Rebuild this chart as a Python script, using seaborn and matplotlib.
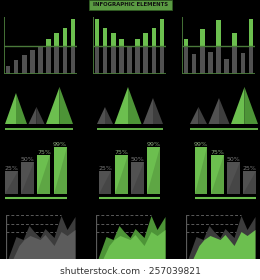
import matplotlib
matplotlib.use("Agg")
import matplotlib.pyplot as plt
from matplotlib.patches import Rectangle
import seaborn as sns

sns.set_theme(style="white")
plt.rcParams['font.family'] = ['DejaVu Sans']

# ---------------- data ----------------
title = "INFOGRAPHIC ELEMENTS"
caption = "shutterstock.com \u00b7 257039821"

bar_threshold = 50
bars_a = [14, 25, 34, 43, 50, 62, 73, 82, 98]
bars_b = [98, 82, 73, 62, 50, 62, 73, 82, 98]
bars_c = [62, 36, 80, 39, 96, 27, 73, 37, 98]

peaks_a_h = [31, 17, 37]
peaks_a_w = [22, 16, 27]
peaks_a_green = [True, False, True]
peaks_b_h = [17, 37, 26]
peaks_b_w = [16, 27, 20]
peaks_b_green = [False, True, False]
peaks_c_h = [17, 26, 37]
peaks_c_w = [17, 21, 27]
peaks_c_green = [False, False, True]

pct_heights = {"25%": 23, "50%": 32, "75%": 39, "99%": 47}
pct_a = ["25%", "50%", "75%", "99%"]
pct_b = ["25%", "75%", "50%", "99%"]
pct_c = ["99%", "75%", "50%", "25%"]

area_back_x = [2, 10, 17, 23, 28, 34, 39, 48, 55, 61, 69]
area_back_y = [0, 22, 19, 33, 27, 21, 30, 21, 43, 29, 42]
area_front_x = [7, 13, 18, 24, 34, 39, 48, 55, 61, 69]
area_front_y = [0, 13, 19, 23, 19, 24, 13, 27, 23, 29]
area_grid = [27, 35, 44]

# ---------------- style ----------------
GREEN = "#6cbf4f"
GREEN_D = "#4d9437"
GRAY = "#515151"
GRAY_D = "#3e3e3e"
AXG = "#4a7a3a"

W, H = 260, 280
fig = plt.figure(figsize=(W / 100, H / 100), dpi=100, facecolor="white")
bg = Rectangle((0, 1 - 259 / H), 1, 259 / H, transform=fig.transFigure,
               facecolor="black", edgecolor="none")
bg.set_zorder(-10)
fig.patches.append(bg)


def rect(x0, y0, x1, y1):
    return [x0 / W, 1 - y1 / H, (x1 - x0) / W, (y1 - y0) / H]


def clean(ax):
    ax.set_facecolor("none")
    ax.patch.set_alpha(0)
    for s in ax.spines.values():
        s.set_visible(False)
    ax.set_xticks([])
    ax.set_yticks([])
    ax.set_xlabel("")
    ax.set_ylabel("")


# title box
tb = Rectangle((89 / W, 1 - 9.5 / H), 83 / W, 9.5 / H, transform=fig.transFigure,
               facecolor="#5a9a42", edgecolor="#2f5a22", lw=0.6)
tb.set_zorder(-5)
fig.patches.append(tb)
fig.text(130.5 / W, 1 - 5 / H, title, ha="center", va="center", fontsize=3.9,
         fontweight="bold", color="#111111")

# ---------------- row 1: threshold bars ----------------
for vals, x0 in [(bars_a, 4), (bars_b, 93), (bars_c, 182)]:
    ax = fig.add_axes(rect(x0, 17, x0 + 73, 74))
    idx = list(range(len(vals)))
    sns.barplot(x=idx, y=vals, ax=ax, color=GREEN, saturation=1, width=0.56, linewidth=0)
    sns.barplot(x=idx, y=[min(v, bar_threshold) for v in vals], ax=ax, color=GRAY,
                saturation=1, width=0.56, linewidth=0)
    ax.set_xlim(-0.5, len(vals) - 0.5)
    ax.set_ylim(0, 102)
    clean(ax)
    ax.axhline(bar_threshold, color=AXG, lw=1.0)
    ax.axhline(0, color=AXG, lw=1.3)
    ax.axvline(-0.5, color=AXG, lw=1.3)

# ---------------- row 2: peaks ----------------
for hs, ws, gs, x0 in [(peaks_a_h, peaks_a_w, peaks_a_green, 5),
                       (peaks_b_h, peaks_b_w, peaks_b_green, 97),
                       (peaks_c_h, peaks_c_w, peaks_c_green, 190)]:
    total = sum(ws) + 1.5 * (len(ws) - 1)
    ax = fig.add_axes(rect(x0, 84, x0 + total, 131))
    clean(ax)
    ax.set_xlim(0, total)
    ax.set_ylim(-7, 40)
    pos = 0
    for h, w, g in zip(hs, ws, gs):
        lc, dc = (GREEN, GREEN_D) if g else (GRAY, GRAY_D)
        xc = pos + w / 2
        ax.fill([pos, xc, xc], [0, h, 0], color=lc, lw=0)
        ax.fill([xc, xc, pos + w], [0, h, 0], color=dc, lw=0)
        pos += w + 1.5
    ax.plot([0, total], [-5, -5], color=GREEN, lw=1.3, solid_capstyle="butt")

# ---------------- row 3: percentage bars ----------------
for labels, x0 in [(pct_a, 3.4), (pct_b, 96.9), (pct_c, 192.9)]:
    ax = fig.add_axes(rect(x0, 140, x0 + 64.8, 200))
    hs = [pct_heights[l] for l in labels]
    greens = [int(l[:-1]) >= 75 for l in labels]
    cols = [GREEN if g else GRAY for g in greens]
    idx = list(range(len(labels)))
    sns.barplot(x=idx, y=hs, hue=idx, palette=cols, ax=ax, saturation=1, width=0.8,
                linewidth=0, legend=False, dodge=False)
    ax.set_xlim(-0.5, len(labels) - 0.5)
    ax.set_ylim(-6, 54)
    clean(ax)
    for p, g in zip(list(ax.patches), greens):
        bx, by, bw, bh = p.get_x(), p.get_y(), p.get_width(), p.get_height()
        ax.fill([bx, bx + bw, bx + bw], [by, by, by + bh], color="black", alpha=0.13, lw=0)
    for i, (l, h, g) in enumerate(zip(labels, hs, greens)):
        ax.text(i, h + 0.4, l, ha="center", va="bottom", fontsize=4.5,
                color="#8aa87c" if g else "#7a7a7a")
    ax.plot([-0.4, len(labels) - 0.6], [-4, -4], color=GREEN, lw=1.5, solid_capstyle="butt")

# ---------------- row 4: area charts ----------------
for back_c, front_c, x0 in [("#3c3c3c", "#5c5c5c", 6), (GREEN_D, GREEN, 96), ("#3c3c3c", GREEN, 186)]:
    ax = fig.add_axes(rect(x0, 210, x0 + 72, 258.5))
    clean(ax)
    ax.set_xlim(0, 72)
    ax.set_ylim(0, 48.5)
    for g in area_grid:
        ax.plot([0, 55], [g, g], color="#5a5a5a", lw=0.7, ls=(0, (3, 2)), zorder=1)
    ax.fill_between(area_back_x, area_back_y, 0, color=back_c, lw=0, zorder=2)
    ax.fill_between(area_front_x, area_front_y, 0, color=front_c, lw=0, zorder=3)
    ax.plot([0, 0], [0, 44], color="#5a5a5a", lw=0.9, zorder=4)

fig.text(130 / W, 1 - 271 / H, caption, ha="center", va="center", fontsize=6.6, color="#333333")

fig.savefig("out.png", dpi=100, facecolor="white")
